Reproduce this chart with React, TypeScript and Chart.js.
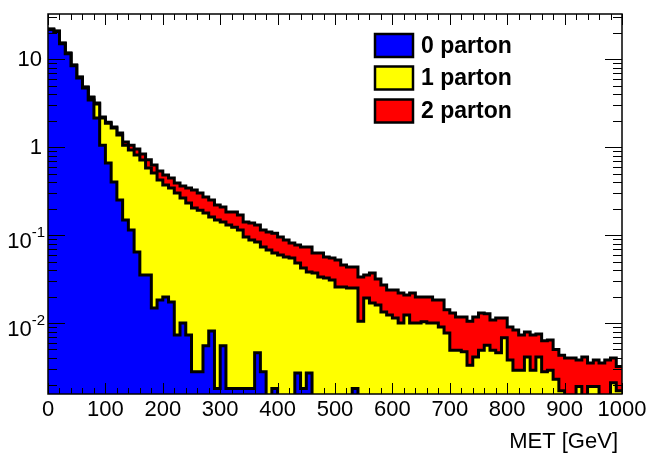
import React, { useEffect, useRef } from "react";
import { Chart, registerables } from "chart.js";

Chart.register(...registerables);

// ---- data ----
const BIN_WIDTH = 10;
const X_MIN = 0;
const X_MAX = 1000;
const Y_MIN = 0.00156;
const Y_MAX = 32.5;
const X_MAJOR_STEP = 100;
const X_MINOR_STEP = 20;
const X_TICKS = [0, 100, 200, 300, 400, 500, 600, 700, 800, 900, 1000];
const Y_TICKS = [10, 1, 0.1, 0.01];
const Y_TICK_BASES = ["10", "1", "10", "10"];
const Y_TICK_EXPONENTS = ["", "", "-1", "-2"];
const X_TITLE = "MET [GeV]";
const SERIES_NAMES = ["0 parton", "1 parton", "2 parton"];
const SERIES_COLORS = ["#0000ff", "#ffff00", "#ff0000"];

const parton0 = [
  21.6, 20.5, 14.95, 11.5, 8.38, 6.1, 4.68, 3.42, 2.14, 1.05,
  0.658, 0.4, 0.25, 0.148, 0.114, 0.0641, 0.0351, 0.0351, 0.0148, 0.0182,
  0.0197, 0.0173, 0.0073, 0.01, 0.0073, 0.0028, 0.0028, 0.0055, 0.0081, 0.0018,
  0.0055, 0.0018, 0.0018, 0.0018, 0.0018, 0.0018, 0.0046, 0.0028, 0, 0.0018,
  0, 0, 0, 0.0027, 0.0018, 0.0027, 0, 0, 0, 0,
  0, 0, 0, 0.0018, 0, 0, 0, 0, 0, 0,
  0, 0, 0, 0, 0, 0, 0, 0, 0, 0,
  0, 0, 0, 0, 0, 0, 0, 0, 0, 0,
  0, 0, 0, 0, 0, 0, 0, 0, 0, 0,
  0, 0, 0, 0, 0, 0, 0, 0, 0, 0,
];

const parton1 = [
  0.25, 0.25, 0.2, 0.17, 0.14, 0.12, 0.11, 0.23, 0.94, 1.09,
  1.21, 1.24, 1.12, 0.9, 0.811, 0.747, 0.677, 0.542, 0.491, 0.404,
  0.35, 0.325, 0.293, 0.253, 0.224, 0.2, 0.189, 0.1725, 0.152, 0.146,
  0.1355, 0.128, 0.121, 0.112, 0.0931, 0.086, 0.0787, 0.0703, 0.0676, 0.0607,
  0.0593, 0.0562, 0.0548, 0.0454, 0.0404, 0.0353, 0.037, 0.0333, 0.0325, 0.0308,
  0.0257, 0.0257, 0.025, 0.0232, 0.0105, 0.0192, 0.0169, 0.016, 0.0133, 0.0123,
  0.0114, 0.01, 0.0123, 0.01, 0.01, 0.0103, 0.01, 0.01, 0.009, 0.0077,
  0.0049, 0.0049, 0.0047, 0.0033, 0.0041, 0.0049, 0.0056, 0.0049, 0.0046, 0.0068,
  0.0038, 0.0029, 0.0029, 0.0041, 0.0029, 0.0041, 0.0028, 0.0029, 0.0023, 0.0017,
  0, 0, 0.0019, 0, 0.0019, 0.0019, 0, 0, 0.0021, 0.0017,
];

const parton2 = [
  0.05, 0.05, 0.05, 0.03, 0.03, 0.02, 0.02, 0.05, 0.08, 0.05,
  0.05, 0.05, 0.07, 0.09, 0.125, 0.14, 0.12, 0.14, 0.118, 0.112,
  0.111, 0.102, 0.09, 0.097, 0.111, 0.122, 0.108, 0.092, 0.09, 0.071,
  0.067, 0.053, 0.06, 0.055, 0.046, 0.049, 0.0467, 0.0409, 0.0404, 0.0425,
  0.0356, 0.0316, 0.0263, 0.0288, 0.0309, 0.0351, 0.0255, 0.0292, 0.0237, 0.024,
  0.0263, 0.0199, 0.0183, 0.0183, 0.0228, 0.0159, 0.0201, 0.0156, 0.0137, 0.0114,
  0.0123, 0.0119, 0.0085, 0.0119, 0.0097, 0.0094, 0.0097, 0.0082, 0.0092, 0.0064,
  0.0081, 0.0068, 0.007, 0.0072, 0.0076, 0.0081, 0.0071, 0.0059, 0.0068, 0.0046,
  0.0052, 0.0054, 0.0044, 0.0038, 0.0044, 0.0034, 0.0035, 0.0035, 0.0027, 0.0026,
  0.004, 0.004, 0.0019, 0.0041, 0.0016, 0.0019, 0.0035, 0.0038, 0.0019, 0.0015,
];

// ---- helpers ----
const FLOOR = 1e-5;
const FONT = "'Liberation Sans', Arial, Helvetica, sans-serif";

function stepPoints(values: number[]) {
  const pts = values.map((v, i) => ({ x: X_MIN + i * BIN_WIDTH, y: Math.max(v, FLOOR) }));
  pts.push({ x: X_MAX, y: Math.max(values[values.length - 1], FLOOR) });
  return pts;
}

const rootDecor = {
  id: "rootDecor",
  afterDatasetsDraw(chart: any) {
    const { ctx, chartArea: a, scales } = chart;
    const xs = scales.x;
    const ys = scales.y;
    ctx.save();
    ctx.strokeStyle = "#000";
    ctx.lineWidth = 1;
    const seg = (x1: number, y1: number, x2: number, y2: number) => {
      ctx.beginPath();
      ctx.moveTo(x1, y1);
      ctx.lineTo(x2, y2);
      ctx.stroke();
    };
    // x ticks (bottom and top, inside)
    for (let v = X_MIN; v <= X_MAX; v += X_MINOR_STEP) {
      const px = Math.round(xs.getPixelForValue(v)) + 0.5;
      const len = v % X_MAJOR_STEP === 0 ? 11 : 6;
      seg(px, a.bottom, px, a.bottom - len);
      seg(px, a.top, px, a.top + len);
    }
    // y ticks (log, left and right, inside)
    for (let d = -3; d <= 1; d++) {
      for (let m = 1; m <= 9; m++) {
        const v = m * Math.pow(10, d);
        if (v < Y_MIN || v > Y_MAX) continue;
        const py = Math.round(ys.getPixelForValue(v)) + 0.5;
        const len = m === 1 ? 17 : 9;
        seg(a.left, py, a.left + len, py);
        seg(a.right, py, a.right - len, py);
      }
    }
    // frame
    ctx.lineWidth = 1.5;
    ctx.strokeRect(a.left, a.top, a.right - a.left, a.bottom - a.top);

    // x tick labels
    ctx.fillStyle = "#000";
    ctx.font = `22px ${FONT}`;
    ctx.textAlign = "center";
    ctx.textBaseline = "middle";
    X_TICKS.forEach((v) => {
      ctx.fillText(String(v), xs.getPixelForValue(v), a.bottom + 16);
    });
    // x title
    ctx.textAlign = "right";
    ctx.fillText(X_TITLE, a.right - 4, a.bottom + 48);

    // y tick labels
    Y_TICKS.forEach((v, i) => {
      const py = ys.getPixelForValue(v);
      const base = Y_TICK_BASES[i];
      const exp = Y_TICK_EXPONENTS[i];
      if (!exp) {
        ctx.font = `22px ${FONT}`;
        ctx.textAlign = "right";
        ctx.fillText(base, a.left - 6, py + 1);
      } else {
        ctx.font = `15px ${FONT}`;
        ctx.textAlign = "right";
        const right = a.left - 3;
        const w = ctx.measureText(exp).width;
        ctx.fillText(exp, right, py - 2);
        ctx.font = `22px ${FONT}`;
        ctx.fillText(base, right - w, py + 7);
      }
    });
    ctx.restore();
  },
  afterDraw(chart: any) {
    const { ctx } = chart;
    ctx.save();
    const boxX = 375;
    const boxW = 38;
    const boxH = 23;
    const rowY = [45.5, 78, 111];
    ctx.font = `bold 23px ${FONT}`;
    ctx.textAlign = "left";
    ctx.textBaseline = "middle";
    SERIES_NAMES.forEach((name, i) => {
      const cy = rowY[i];
      ctx.fillStyle = SERIES_COLORS[i];
      ctx.fillRect(boxX, cy - boxH / 2, boxW, boxH);
      ctx.strokeStyle = "#000";
      ctx.lineWidth = 2.5;
      ctx.strokeRect(boxX, cy - boxH / 2, boxW, boxH);
      ctx.fillStyle = "#000";
      ctx.fillText(name, 421, cy + 1);
    });
    ctx.restore();
  },
};

export default function App() {
  const ref = useRef<HTMLCanvasElement | null>(null);
  useEffect(() => {
    if (!ref.current) return;
    const cum0 = parton0.slice();
    const cum1 = parton0.map((v, i) => v + parton1[i]);
    const cum2 = cum1.map((v, i) => v + parton2[i]);
    const stacks = [cum0, cum1, cum2];
    const chart = new Chart(ref.current, {
      type: "line",
      data: {
        datasets: stacks.map((arr, i) => ({
          label: SERIES_NAMES[i],
          data: stepPoints(arr),
          stepped: "before" as const,
          fill: "start",
          backgroundColor: SERIES_COLORS[i],
          borderColor: "#000",
          borderWidth: 3,
          borderJoinStyle: "miter" as const,
          pointRadius: 0,
          pointHoverRadius: 0,
          tension: 0,
        })),
      },
      options: {
        animation: false,
        responsive: false,
        devicePixelRatio: 1,
        events: [],
        layout: { padding: { left: 48, right: 26, top: 14, bottom: 70 } },
        plugins: {
          legend: { display: false },
          tooltip: { enabled: false },
        },
        scales: {
          x: { type: "linear", min: X_MIN, max: X_MAX, display: false },
          y: { type: "logarithmic", min: Y_MIN, max: Y_MAX, display: false },
        },
      },
      plugins: [rootDecor],
    });
    return () => chart.destroy();
  }, []);
  return (
    <div style={{ position: "absolute", left: 0, top: 0, width: 648, height: 464, background: "#fff" }}>
      <canvas ref={ref} width={648} height={464} style={{ display: "block" }} />
    </div>
  );
}
